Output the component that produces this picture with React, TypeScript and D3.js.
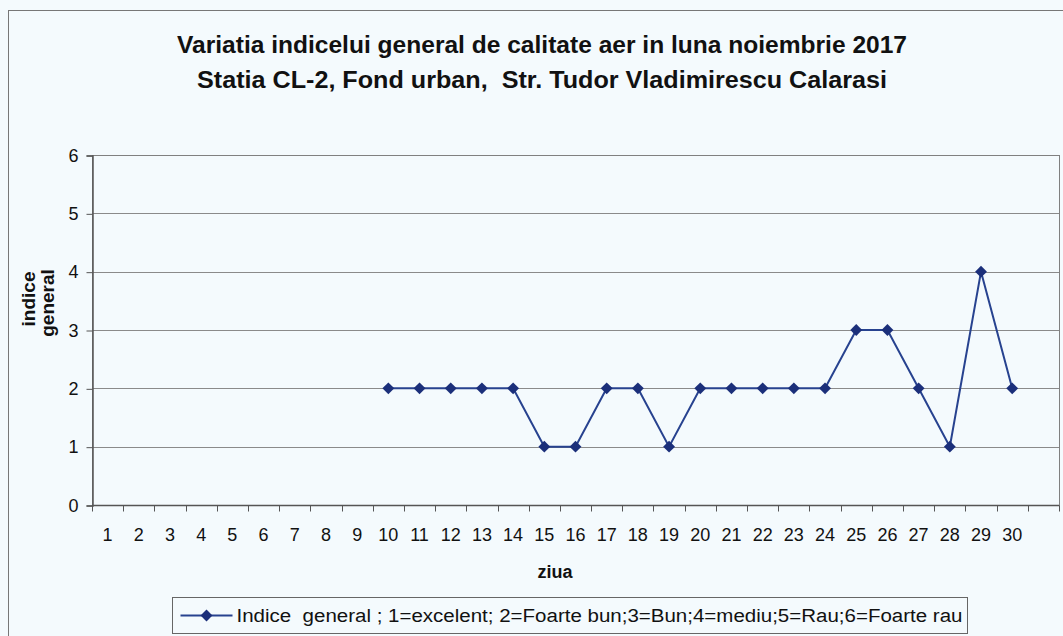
import React, { useEffect, useRef } from 'react';
import * as d3 from 'd3';

// ziua (day) labels - the category axis has one extra empty slot at the end
const days = ['1', '2', '3', '4', '5', '6', '7', '8', '9', '10', '11', '12', '13', '14', '15',
  '16', '17', '18', '19', '20', '21', '22', '23', '24', '25', '26', '27', '28', '29', '30', ''];

// indice general per day (null = no data)
const indice: (number | null)[] = [null, null, null, null, null, null, null, null, null,
  2, 2, 2, 2, 2, 1, 1, 2, 2, 1, 2, 2, 2, 2, 2, 3, 3, 2, 1, 4, 2];

const yTicks = [0, 1, 2, 3, 4, 5, 6];

const titleLines = [
  'Variatia indicelui general de calitate aer in luna noiembrie 2017',
  'Statia CL-2, Fond urban,  Str. Tudor Vladimirescu Calarasi'
];
const titleWidths = [730, 690];
const legendLabel = 'Indice  general ; 1=excelent; 2=Foarte bun;3=Bun;4=mediu;5=Rau;6=Foarte rau';

const App: React.FC = () => {
  const svgRef = useRef<SVGSVGElement>(null);

  useEffect(() => {
    if (!svgRef.current) return;
    const width = 1063;
    const height = 636;
    const plot = { left: 92, right: 1059, top: 155, bottom: 505 };
    const font = 'Arial, "Liberation Sans", Arimo, sans-serif';
    const lineColor = '#27428f';
    const markerColor = '#1b2f7a';

    d3.select(svgRef.current).selectAll('*').remove();
    const svg = d3.select(svgRef.current)
      .attr('width', width)
      .attr('height', height)
      .style('position', 'absolute')
      .style('left', '0px')
      .style('top', '0px')
      .style('font-family', font);

    // background + outer border
    svg.append('rect').attr('width', width).attr('height', height).attr('fill', '#f4fafd');
    svg.append('rect')
      .attr('x', 8.5).attr('y', 10.5).attr('width', width + 10).attr('height', height)
      .attr('fill', 'none').attr('stroke', '#777').attr('stroke-width', 1);

    const x = d3.scaleBand<string>()
      .domain(days.map((d, i) => String(i)))
      .range([plot.left, plot.right]);

    const y = d3.scaleLinear()
      .domain([0, 6])
      .range([plot.bottom, plot.top]);

    // gridlines
    svg.append('g')
      .selectAll('line')
      .data(yTicks.filter(t => t > 0))
      .enter()
      .append('line')
      .attr('x1', plot.left).attr('x2', plot.right)
      .attr('y1', d => Math.round(y(d)) + 0.5).attr('y2', d => Math.round(y(d)) + 0.5)
      .attr('stroke', '#8a8a8a').attr('stroke-width', 1);

    // plot area border
    svg.append('rect')
      .attr('x', plot.left + 0.5).attr('y', plot.top + 0.5)
      .attr('width', plot.right - plot.left).attr('height', plot.bottom - plot.top)
      .attr('fill', 'none').attr('stroke', '#808080');

    // y axis
    const yAxis = svg.append('g')
      .attr('transform', `translate(${plot.left + 0.5},0.5)`)
      .call(d3.axisLeft(y).tickValues(yTicks).tickSize(6).tickPadding(8).tickFormat(d3.format('d')));
    yAxis.select('.domain').attr('stroke', '#555').attr('stroke-width', 1.5);
    yAxis.selectAll('.tick line').attr('stroke', '#555');
    yAxis.selectAll('.tick text')
      .attr('font-family', font).attr('font-size', 18).attr('fill', '#111');

    // x axis (ticks at band edges)
    const xAxisG = svg.append('g').attr('transform', `translate(0,${plot.bottom + 0.5})`);
    xAxisG.append('line')
      .attr('x1', plot.left).attr('x2', plot.right)
      .attr('stroke', '#555').attr('stroke-width', 1.5);
    xAxisG.selectAll('line.tk')
      .data(d3.range(days.length + 1))
      .enter()
      .append('line')
      .attr('class', 'tk')
      .attr('x1', i => Math.round(plot.left + i * x.step()) + 0.5)
      .attr('x2', i => Math.round(plot.left + i * x.step()) + 0.5)
      .attr('y1', 0).attr('y2', 6)
      .attr('stroke', '#555');
    xAxisG.selectAll('text')
      .data(days)
      .enter()
      .append('text')
      .attr('x', (d, i) => x(String(i))! + x.bandwidth() / 2)
      .attr('y', 35)
      .attr('text-anchor', 'middle')
      .attr('font-family', font).attr('font-size', 18).attr('fill', '#111')
      .text(d => d);

    // series
    const pts = indice
      .map((v, i) => ({ i, v }))
      .filter(p => p.v !== null) as { i: number; v: number }[];
    const cx = (p: { i: number }) => x(String(p.i))! + x.bandwidth() / 2;

    svg.append('path')
      .datum(pts)
      .attr('fill', 'none')
      .attr('stroke', lineColor)
      .attr('stroke-width', 2)
      .attr('d', d3.line<{ i: number; v: number }>().x(cx).y(p => y(p.v)));

    const diamond = d3.symbol().type(d3.symbolDiamond2).size(90);
    svg.append('g')
      .selectAll('path')
      .data(pts)
      .enter()
      .append('path')
      .attr('d', diamond()!)
      .attr('transform', p => `translate(${cx(p)},${y(p.v)})`)
      .attr('fill', markerColor);

    // titles
    svg.append('g')
      .selectAll('text')
      .data(titleLines)
      .enter()
      .append('text')
      .attr('x', (d, i) => 542 - titleWidths[i] / 2).attr('y', (d, i) => 53 + i * 35)
      .attr('font-family', font).attr('font-weight', 'bold').attr('font-size', 23).attr('fill', '#111')
      .attr('textLength', (d, i) => titleWidths[i]).attr('lengthAdjust', 'spacingAndGlyphs')
      .style('white-space', 'pre')
      .text(d => d);

    // axis titles
    const yTitle = svg.append('g').attr('transform', 'translate(0,299) rotate(-90)');
    yTitle.append('text').attr('x', 0).attr('y', 35)
      .attr('text-anchor', 'middle')
      .attr('font-family', font).attr('font-weight', 'bold').attr('font-size', 19).attr('fill', '#111')
      .text('indice');
    yTitle.append('text').attr('x', -4).attr('y', 54)
      .attr('text-anchor', 'middle')
      .attr('font-family', font).attr('font-weight', 'bold').attr('font-size', 19).attr('fill', '#111')
      .text('general');

    svg.append('text')
      .attr('x', 555).attr('y', 578)
      .attr('text-anchor', 'middle')
      .attr('font-family', font).attr('font-weight', 'bold').attr('font-size', 18).attr('fill', '#111')
      .text('ziua');

    // legend
    const lg = svg.append('g').attr('transform', 'translate(172.5,597.5)');
    lg.append('rect').attr('width', 795).attr('height', 36)
      .attr('fill', '#f4fafd').attr('stroke', '#666');
    lg.append('line').attr('x1', 8).attr('x2', 60).attr('y1', 18).attr('y2', 18)
      .attr('stroke', lineColor).attr('stroke-width', 2);
    lg.append('path').attr('d', diamond()!)
      .attr('transform', 'translate(34,18)').attr('fill', markerColor);
    lg.append('text')
      .attr('x', 64).attr('y', 24)
      .attr('font-family', '"Liberation Sans Narrow", Arial, "Liberation Sans", sans-serif')
      .attr('font-size', 18).attr('fill', '#111')
      .attr('textLength', 726).attr('lengthAdjust', 'spacingAndGlyphs')
      .style('white-space', 'pre')
      .text(legendLabel);
  }, []);

  return <svg ref={svgRef}></svg>;
};

export default App;
